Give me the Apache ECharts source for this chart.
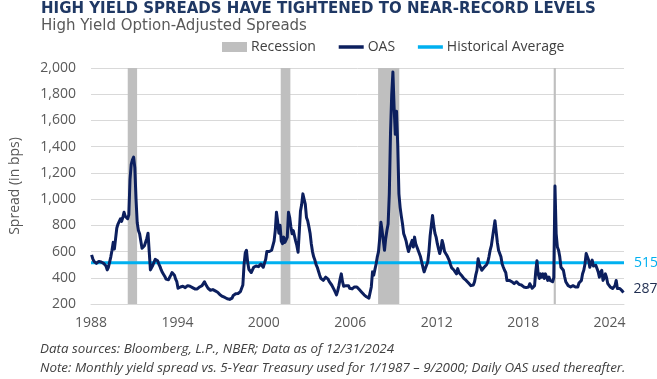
<!DOCTYPE html>
<html><head><meta charset="utf-8">
<script src="https://cdn.jsdelivr.net/npm/echarts@6/dist/echarts.min.js"></script>
<style>html,body{margin:0;padding:0;background:#fff}#c{width:657px;height:379px}</style>
</head><body><div id="c"></div>
<script>
// ---- DATA ----
const startYear = 1988;
const xTickYears = [1988, 1994, 2000, 2006, 2012, 2018, 2024];
const recessionStart = [1990.55, 2001.17, 2007.93, 2020.12];
const recessionEnd   = [1991.20, 2001.84, 2009.40, 2020.27];
const historicalAverage = 515;

// Monthly OAS (bps), Jan..Dec each year
const oas1988_1993 = [
  575, 545, 525, 515, 510, 515, 525, 540, 520, 515, 510, 500,
  490, 460, 480, 520, 560, 610, 670, 620, 700, 780, 810, 820,
  850, 830, 860, 900, 870, 880, 850, 880, 1150, 1265, 1300, 1320,
  1240, 1000, 820, 760, 735, 680, 625, 620, 645, 645, 700, 740,
  600, 460, 475, 495, 520, 540, 545, 530, 505, 485, 460, 440,
  430, 410, 390, 380, 385, 400, 420, 440, 445, 420, 390, 370
];
const oas1994_1999 = [
  320, 325, 330, 340, 335, 330, 325, 330, 340, 330, 335, 330,
  325, 320, 315, 310, 315, 320, 330, 335, 340, 355, 370, 350,
  335, 320, 310, 305, 305, 310, 315, 300, 295, 290, 280, 270,
  260, 258, 255, 250, 245, 240, 238, 235, 235, 245, 265, 280,
  278, 275, 280, 285, 295, 320, 345, 500, 590, 610, 520, 465,
  450, 440, 460, 480, 495, 490, 480, 485, 495, 505, 500, 480
];
const oas2000_2005 = [
  480, 540, 600, 585, 600, 605, 610, 620, 680, 760, 900, 830,
  740, 800, 680, 660, 710, 670, 690, 710, 900, 860, 790, 735,
  760, 720, 680, 645, 595, 750, 910, 960, 1040, 1000, 962, 860,
  835, 790, 740, 660, 600, 560, 535, 500, 480, 450, 420, 395,
  385, 380, 395, 405, 400, 390, 370, 360, 345, 330, 310, 290,
  270, 300, 340, 390, 430, 370, 335, 330, 340, 345, 340, 320
];
const oas2006_2011 = [
  305, 315, 325, 330, 320, 330, 320, 310, 300, 290, 280, 270,
  265, 255, 250, 245, 240, 330, 445, 420, 405, 505, 560, 600,
  700, 823, 760, 685, 610, 700, 760, 810, 1040, 1506, 1798, 1970,
  1700, 1494, 1671, 1418, 1040, 937, 870, 810, 735, 710, 680, 635,
  600, 585, 660, 685, 635, 710, 660, 635, 610, 595, 560, 520,
  480, 445, 470, 480, 520, 600, 720, 800, 875, 800, 740, 710
];
const oas2012_2017 = [
  660, 620, 585, 620, 685, 650, 600, 585, 570, 560, 530, 500,
  475, 465, 457, 445, 430, 470, 440, 430, 420, 405, 395, 385,
  380, 370, 360, 355, 340, 330, 345, 370, 420, 457, 545, 500,
  480, 457, 470, 480, 470, 500, 520, 560, 610, 645, 710, 772,
  835, 835, 670, 610, 610, 560, 505, 480, 457, 440, 380, 380,
  380, 375, 370, 365, 355, 360, 370, 365, 350, 340, 345, 340
];
const oas2018_2024 = [
  330, 335, 325, 318, 330, 355, 340, 320, 305, 340, 450, 530,
  430, 395, 430, 405, 430, 395, 430, 405, 380, 405, 380, 370,
  370, 400, 1100, 735, 635, 610, 560, 480, 470, 457, 410, 370,
  360, 340, 335, 330, 320, 340, 335, 330, 320, 330, 360, 370,
  380, 430, 457, 505, 585, 560, 535, 480, 510, 535, 490, 480,
  495, 470, 445, 405, 440, 457, 380, 400, 430, 400, 355, 340,
  330, 325, 318, 320, 340, 380, 318, 330, 318, 318, 300, 287
];

// ---- BUILD ----
const oasMonthly = [].concat(oas1988_1993, oas1994_1999, oas2000_2005, oas2006_2011, oas2012_2017, oas2018_2024);
const oasData = oasMonthly.map((v, i) => [startYear + (i + 0.5) / 12, v]);
const xMin = startYear;
const xMax = startYear + Math.ceil(oasMonthly.length / 12);
const avgData = [[xMin, historicalAverage], [xMax, historicalAverage]];
const recessionAreas = recessionStart.map((s, i) => [{ xAxis: s }, { xAxis: recessionEnd[i] }]);

const gray = '#595959';
const navy = '#0C1F5E';
const cyan = '#00B0F0';

const chart = echarts.init(document.getElementById('c'), null, { renderer: 'canvas' });
chart.setOption({
  animation: false,
  backgroundColor: '#ffffff',
  title: [
    { text: 'HIGH YIELD SPREADS HAVE TIGHTENED TO NEAR-RECORD LEVELS', left: 41, top: 2, padding: 0,
      textStyle: { fontFamily: 'DejaVu Sans', fontWeight: 'bold', fontSize: 15, color: '#1F3864' } },
    { text: 'High Yield Option-Adjusted Spreads', left: 41, top: 19, padding: 0,
      textStyle: { fontFamily: 'DejaVu Sans', fontWeight: 'normal', fontSize: 15, color: gray } },
    { text: 'Data sources: Bloomberg, L.P., NBER; Data as of 12/31/2024', left: 40, top: 343, padding: 0,
      textStyle: { fontFamily: 'Open Sans', fontStyle: 'italic', fontWeight: 'normal', fontSize: 13.4, color: '#404040' } },
    { text: 'Note: Monthly yield spread vs. 5-Year Treasury used for 1/1987 \u2013 9/2000; Daily OAS used thereafter.', left: 40, top: 362, padding: 0,
      textStyle: { fontFamily: 'Open Sans', fontStyle: 'italic', fontWeight: 'normal', fontSize: 13.4, color: '#404040' } }
  ],
  legend: {
    left: 222, top: 40, padding: 0,
    itemWidth: 25, itemHeight: 10, itemGap: 21,
    textStyle: { fontFamily: 'Open Sans', fontSize: 14, color: '#404040', padding: [0, 0, 0, -1] },
    data: [
      { name: 'Recession', icon: 'rect' },
      { name: 'OAS', itemStyle: { opacity: 0 }, lineStyle: { width: 3.5 } },
      { name: 'Historical Average', itemStyle: { opacity: 0 }, lineStyle: { width: 3.5 } }
    ]
  },
  grid: { left: 88, right: 33, top: 68, bottom: 75, containLabel: false },
  xAxis: {
    type: 'value', min: xMin, max: xMax, interval: 6,
    splitLine: { show: false },
    axisLine: { show: true, lineStyle: { color: '#D9D9D9', width: 1 } },
    axisTick: { show: false },
    axisLabel: {
      margin: 12, fontFamily: 'Open Sans', fontSize: 14, color: gray,
      formatter: v => (xTickYears.indexOf(Math.round(v)) >= 0 && Math.abs(v - Math.round(v)) < 1e-6) ? String(Math.round(v)) : ''
    }
  },
  yAxis: {
    type: 'value', min: 200, max: 2000, interval: 200,
    name: 'Spread (in bps)', nameLocation: 'middle', nameGap: 69,
    nameTextStyle: { fontFamily: 'Open Sans', fontSize: 14, color: gray },
    axisLine: { show: false }, axisTick: { show: false },
    splitLine: { lineStyle: { color: '#D9D9D9', width: 1 } },
    axisLabel: { margin: 15, fontFamily: 'Open Sans', fontSize: 14, color: gray,
      formatter: v => v.toLocaleString('en-US') }
  },
  series: [
    {
      name: 'Recession', type: 'line', data: [], z: 1,
      itemStyle: { color: '#BFBFBF' }, lineStyle: { color: '#BFBFBF' },
      markArea: { silent: true, itemStyle: { color: '#BFBFBF', opacity: 1 }, data: recessionAreas }
    },
    {
      name: 'Historical Average', type: 'line', data: avgData, z: 3,
      symbol: 'none', showSymbol: false,
      itemStyle: { color: cyan }, lineStyle: { color: cyan, width: 3 },
      endLabel: { show: true, distance: 10, formatter: p => String(p.value[1]),
        fontFamily: 'Open Sans', fontSize: 14, color: cyan }
    },
    {
      name: 'OAS', type: 'line', data: oasData, z: 4,
      symbol: 'none', showSymbol: false,
      itemStyle: { color: navy }, lineStyle: { color: navy, width: 3, join: 'round' },
      endLabel: { show: true, distance: 10, offset: [0, -4], formatter: p => String(p.value[1]),
        fontFamily: 'Open Sans', fontSize: 14, color: '#1F2D50' }
    }
  ]
});
</script></body></html>
